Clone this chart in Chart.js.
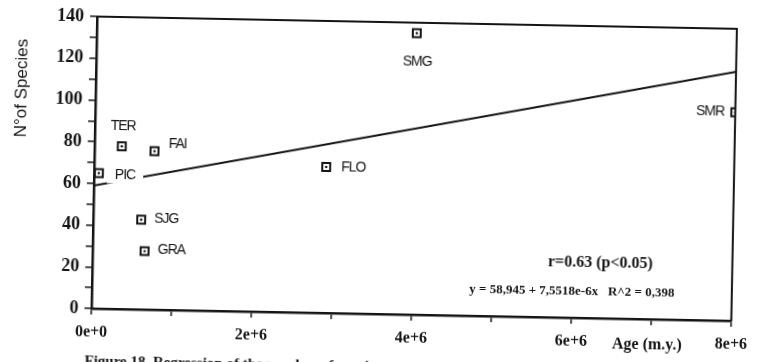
<!DOCTYPE html>
<html>
<head>
<meta charset="utf-8">
<script src="https://cdn.jsdelivr.net/npm/chart.js@4.4.1/dist/chart.umd.min.js"></script>
<style>
  html, body { margin: 0; padding: 0; background: #fff; width: 758px; height: 362px; overflow: hidden; }
  #plot { position: absolute; left: 0; top: 0; transform: rotate(1.1deg); transform-origin: 379px 181px; }
</style>
</head>
<body>
<canvas id="plot" width="758" height="380"></canvas>
<script>
// Sites, their age (m.y.) and number of species
const siteNames = ['PIC', 'TER', 'FAI', 'SJG', 'GRA', 'FLO', 'SMG', 'SMR'];
const ageMy = [0.06e6, 0.34e6, 0.75e6, 0.6e6, 0.65e6, 2.9e6, 4.0e6, 8.0e6];
const speciesCount = [65, 78, 76, 43, 28, 70, 135, 100];

// Fitted regression y = a + b·x
const fitIntercept = 58.945;
const fitSlope = 7.5518e-6;
const fitRange = [0, 8e6];

// Axis ticks
const xTickLabels = ['0e+0', '2e+6', '4e+6', '6e+6', '8e+6'];
const yMajorStep = 20;

const statText = 'r=0.63 (p<0.05)';
const equationText = 'y = 58,945 + 7,5518e-6x   R^2 = 0,398';
const xTitle = 'Age (m.y.)';
const yTitle = 'N°of Species';
const captionText = 'Figure 18. Regression of the number of species';

const points = ageMy.map((x, i) => ({ x, y: speciesCount[i] }));
const fitLine = fitRange.map(x => ({ x, y: fitIntercept + fitSlope * x }));

// where each site label sits around its marker
const labelPlace = {
  PIC: { dx: 16, dy: 2, align: 'left', clear: true },
  TER: { dx: 1, dy: -20, align: 'center' },
  FAI: { dx: 14, dy: -7, align: 'left' },
  SJG: { dx: 13, dy: -1, align: 'left' },
  GRA: { dx: 13, dy: -1, align: 'left' },
  FLO: { dx: 15, dy: 0, align: 'left' },
  SMG: { dx: 1, dy: 29, align: 'center' },
  SMR: { dx: -11, dy: 0, align: 'right' }
};

const ink = '#141414';

const decorations = {
  id: 'decorations',
  afterDatasetsDraw(chart) {
    const { ctx, chartArea: a, scales } = chart;
    ctx.save();
    // frame: top and right sides
    ctx.strokeStyle = ink;
    ctx.lineWidth = 2;
    ctx.beginPath();
    ctx.moveTo(a.left, a.top);
    ctx.lineTo(a.right, a.top);
    ctx.lineTo(a.right, a.bottom);
    ctx.stroke();

    // site labels
    ctx.font = '14px "Liberation Sans", Arial, sans-serif';
    ctx.letterSpacing = '-1px';
    ctx.textBaseline = 'middle';
    siteNames.forEach((name, i) => {
      const p = labelPlace[name];
      const px = scales.x.getPixelForValue(ageMy[i]) + p.dx;
      const py = scales.y.getPixelForValue(speciesCount[i]) + p.dy;
      ctx.textAlign = p.align;
      if (p.clear) {
        const w = ctx.measureText(name).width;
        ctx.fillStyle = '#fff';
        ctx.fillRect(px - 8, py - 8, w + 16, 16);
      }
      ctx.fillStyle = ink;
      ctx.fillText(name, px, py);
    });
    ctx.letterSpacing = '0px';

    // statistics
    ctx.textAlign = 'center';
    ctx.font = 'bold 16px "Liberation Serif", "Times New Roman", serif';
    ctx.fillText(statText, a.right - 132, a.bottom - 55);
    ctx.font = 'bold 13px "Liberation Serif", "Times New Roman", serif';
    ctx.fillText(equationText, a.right - 160, a.bottom - 26);

    // axis titles
    ctx.font = 'bold 16px "Liberation Serif", "Times New Roman", serif';
    ctx.fillText(xTitle, a.right - 84, a.bottom + 26);

    ctx.save();
    ctx.translate(20, 95);
    ctx.rotate(-Math.PI / 2);
    ctx.font = '17px "Liberation Sans", Arial, sans-serif';
    ctx.fillText(yTitle, 0, 0);
    ctx.restore();

    // caption
    ctx.textAlign = 'left';
    ctx.textBaseline = 'top';
    ctx.font = 'bold 15px "Liberation Serif", "Times New Roman", serif';
    ctx.fillText(captionText, 88, 360);
    ctx.restore();
  }
};

new Chart(document.getElementById('plot'), {
  type: 'scatter',
  data: {
    datasets: [
      {
        data: points,
        pointStyle: 'circle',
        pointRadius: 1.2,
        pointHoverRadius: 1.2,
        backgroundColor: ink,
        borderWidth: 0,
        order: 0
      },
      {
        data: points,
        pointStyle: 'rect',
        pointRadius: 5.6,
        pointHoverRadius: 5.6,
        backgroundColor: '#fff',
        borderColor: ink,
        borderWidth: 2,
        order: 1
      },
      {
        data: fitLine,
        showLine: true,
        borderColor: ink,
        borderWidth: 2,
        pointRadius: 0,
        order: 2
      }
    ]
  },
  options: {
    responsive: false,
    animation: false,
    events: [],
    layout: { padding: { top: 22, right: 21, left: 0, bottom: 0 } },
    plugins: { legend: { display: false }, tooltip: { enabled: false } },
    scales: {
      x: {
        type: 'linear',
        min: 0,
        max: 8e6,
        afterFit(scale) { scale.height = 66; },
        ticks: {
          stepSize: 1e6,
          autoSkip: false,
          maxRotation: 0,
          padding: 8,
          color: ink,
          font: { family: '"Liberation Serif", "Times New Roman", serif', size: 16, weight: 'bold' },
          callback: v => (v % 2e6 === 0 ? xTickLabels[v / 2e6] : '')
        },
        grid: { drawOnChartArea: false, drawTicks: true, tickLength: 6, color: ink, lineWidth: 1.5 },
        border: { display: true, color: ink, width: 2.5 }
      },
      y: {
        min: 0,
        max: 140,
        afterFit(scale) { scale.width = 94; },
        ticks: {
          stepSize: 10,
          autoSkip: false,
          padding: 6,
          color: ink,
          font: { family: '"Liberation Serif", "Times New Roman", serif', size: 18, weight: 'bold' },
          callback: v => (v % yMajorStep === 0 ? String(v) : '')
        },
        grid: { drawOnChartArea: false, drawTicks: true, tickLength: 7, color: ink, lineWidth: 1.5 },
        border: { display: true, color: ink, width: 2.5 }
      }
    }
  },
  plugins: [decorations]
});
</script>
</body>
</html>
